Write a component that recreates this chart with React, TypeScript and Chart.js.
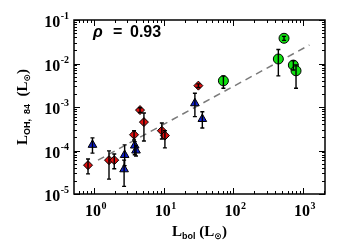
import React, { useEffect, useRef } from 'react';
import { Chart, registerables } from 'chart.js';
Chart.register(...registerables);

// Red diamonds
const redL = [0.82, 1.64, 1.95, 3.75, 4.57, 5.2, 9.4, 10.4, 31.4];
const redOH = [4.6e-5, 6.0e-5, 6.0e-5, 2.3e-4, 8.5e-4, 4.5e-4, 2.85e-4, 2.2e-4, 3.1e-3];
const redLo = [2.9e-5, 2.2e-5, 3.8e-5, 1.75e-4, 7.5e-4, 1.66e-4, 1.84e-4, 1.15e-4, 2.8e-3];
const redHi = [6.4e-5, 9.8e-5, 8.3e-5, 2.85e-4, 9.6e-4, 7.3e-4, 4.3e-4, 2.85e-4, 3.4e-3];

// Blue triangles
const blueL = [0.95, 2.75, 2.7, 3.84, 4.0, 28, 35.8];
const blueOH = [1.35e-4, 7.9e-5, 3.7e-5, 1.3e-4, 1.0e-4, 1.22e-3, 5.3e-4];
const blueLo = [8.7e-5, 4.5e-5, 1.5e-5, 8.0e-5, 7.5e-5, 6.0e-4, 3.3e-4];
const blueHi = [1.95e-4, 1.35e-4, 6.0e-5, 1.6e-4, 1.3e-4, 2.07e-3, 7.8e-4];

// Green circles
const greenL = [71.8, 441, 532, 724, 791];
const greenOH = [4.0e-3, 1.27e-2, 3.8e-2, 9.2e-3, 6.8e-3];
const greenLo = [2.7e-3, 5.2e-3, 3.4e-2, 7.1e-3, 2.7e-3];
const greenHi = [5.2e-3, 2.1e-2, 4.2e-2, 1.16e-2, 9.3e-3];

// Fit line
const fitL = [1.14, 1230];
const fitOH = [6.0e-5, 2.66e-2];

// Tick exponents
const xTickExp = [0, 1, 2, 3];
const yTickExp = [-5, -4, -3, -2, -1];

const corrLabel = '0.93';

const SERIF = '"Liberation Serif", "DejaVu Serif", serif';
const SANS = '"Liberation Sans", Arial, sans-serif';

function pts(xs: number[], ys: number[]) {
  return xs.map((x, i) => ({ x, y: ys[i] }));
}

type Seg = { t: string; font: string; dy: number };

function drawSegs(ctx: CanvasRenderingContext2D, segs: Seg[], cx: number, baseY: number) {
  let total = 0;
  const widths = segs.map((s) => {
    ctx.font = s.font;
    const w = ctx.measureText(s.t).width;
    total += w;
    return w;
  });
  let x = cx - total / 2;
  segs.forEach((s, i) => {
    ctx.font = s.font;
    ctx.fillText(s.t, x, baseY + s.dy);
    x += widths[i];
  });
}

const framePlugin = {
  id: 'frame',
  afterDatasetsDraw(chart: any) {
    const ctx: CanvasRenderingContext2D = chart.ctx;
    const { left, right, top, bottom } = chart.chartArea;
    const xs = chart.scales.x;
    const ys = chart.scales.y;
    ctx.save();
    // error bars
    ctx.strokeStyle = '#000';
    ctx.lineWidth = 1.4;
    chart.data.datasets.forEach((ds: any) => {
      if (!ds.errLo) return;
      ds.data.forEach((p: any, j: number) => {
        const x = xs.getPixelForValue(p.x);
        const y1 = ys.getPixelForValue(ds.errLo[j]);
        const y2 = ys.getPixelForValue(ds.errHi[j]);
        ctx.beginPath();
        ctx.moveTo(x, y1);
        ctx.lineTo(x, y2);
        ctx.moveTo(x - 2, y1);
        ctx.lineTo(x + 2, y1);
        ctx.moveTo(x - 2, y2);
        ctx.lineTo(x + 2, y2);
        ctx.stroke();
      });
    });
    // frame
    ctx.lineWidth = 1.5;
    ctx.strokeRect(left, top, right - left, bottom - top);
    // ticks
    ctx.lineWidth = 1;
    ctx.beginPath();
    for (let e = -2; e <= 4; e++) {
      for (let m = 1; m <= 9; m++) {
        const v = m * Math.pow(10, e);
        if (v < xs.min || v > xs.max) continue;
        const px = Math.round(xs.getPixelForValue(v)) + 0.5;
        const len = m === 1 ? 6 : 3;
        ctx.moveTo(px, bottom);
        ctx.lineTo(px, bottom - len);
        ctx.moveTo(px, top);
        ctx.lineTo(px, top + len);
      }
    }
    for (let e = -7; e <= 0; e++) {
      for (let m = 1; m <= 9; m++) {
        const v = m * Math.pow(10, e);
        if (v < ys.min * 0.999 || v > ys.max * 1.001) continue;
        const py = Math.round(ys.getPixelForValue(v)) + 0.5;
        const len = m === 1 ? 6 : 3;
        ctx.moveTo(left, py);
        ctx.lineTo(left + len, py);
        ctx.moveTo(right, py);
        ctx.lineTo(right - len, py);
      }
    }
    ctx.stroke();

    // tick labels
    ctx.fillStyle = '#000';
    ctx.textBaseline = 'alphabetic';
    const bigF = `bold 16px ${SERIF}`;
    const supF = `bold 10px ${SERIF}`;
    yTickExp.forEach((e) => {
      const py = ys.getPixelForValue(Math.pow(10, e));
      const sup = String(e);
      ctx.font = supF;
      const sw = ctx.measureText(sup).width;
      const rx = left - 5;
      ctx.textAlign = 'left';
      ctx.fillText(sup, rx - sw, py - 1);
      ctx.font = bigF;
      const bw = ctx.measureText('10').width;
      ctx.fillText('10', rx - sw - bw - 0.5, py + 7);
    });
    xTickExp.forEach((e) => {
      const px = xs.getPixelForValue(Math.pow(10, e));
      ctx.font = bigF;
      const bw = ctx.measureText('10').width;
      ctx.textAlign = 'left';
      const x0 = px - bw / 2 - 1;
      ctx.fillText('10', x0, bottom + 22);
      ctx.font = supF;
      ctx.fillText(String(e), x0 + bw + 0.5, bottom + 15);
    });

    // correlation label
    ctx.textAlign = 'left';
    ctx.font = `italic bold 16px ${SANS}`;
    ctx.fillText('ρ', left + 19, top + 17);
    ctx.font = `bold 16px ${SANS}`;
    ctx.fillText('=', left + 39, top + 17);
    ctx.fillText(corrLabel, left + 56, top + 17);

    // x title
    const tF = `bold 15px ${SERIF}`;
    const sF = `bold 9px ${SANS}`;
    const oF = `bold 9px "DejaVu Sans", sans-serif`;
    drawSegs(
      ctx,
      [
        { t: 'L', font: tF, dy: 0 },
        { t: 'bol', font: sF, dy: 3 },
        { t: ' (L', font: tF, dy: 0 },
        { t: '⊙', font: oF, dy: 3 },
        { t: ')', font: tF, dy: 0 },
      ],
      (left + right) / 2,
      bottom + 42
    );
    // y title
    ctx.save();
    ctx.translate(27, (top + bottom) / 2);
    ctx.rotate(-Math.PI / 2);
    drawSegs(
      ctx,
      [
        { t: 'L', font: tF, dy: 0 },
        { t: 'OH,  84', font: sF, dy: 3 },
        { t: '  (L', font: tF, dy: 0 },
        { t: '⊙', font: oF, dy: 3 },
        { t: ')', font: tF, dy: 0 },
      ],
      0,
      0
    );
    ctx.restore();
    ctx.restore();
  },
};

export default function App() {
  const ref = useRef<HTMLCanvasElement | null>(null);
  useEffect(() => {
    document.body.style.margin = '0';
    if (!ref.current) return;
    const chart = new Chart(ref.current, {
      type: 'scatter',
      data: {
        datasets: [
          {
            type: 'line',
            data: pts(fitL, fitOH),
            borderColor: '#7a7a7a',
            borderWidth: 1.5,
            borderDash: [7, 5],
            pointRadius: 0,
            fill: false,
            order: 10,
          } as any,
          {
            data: pts(redL, redOH),
            pointStyle: 'rectRot',
            pointRadius: 4.5,
            backgroundColor: '#e01010',
            borderColor: '#000',
            borderWidth: 1,
            errLo: redLo,
            errHi: redHi,
            order: 1,
          } as any,
          {
            data: pts(blueL, blueOH),
            pointStyle: 'triangle',
            pointRadius: 5,
            backgroundColor: '#1020d0',
            borderColor: '#000',
            borderWidth: 1,
            errLo: blueLo,
            errHi: blueHi,
            order: 1,
          } as any,
          {
            data: pts(greenL, greenOH),
            pointStyle: 'circle',
            pointRadius: 5,
            backgroundColor: '#10e010',
            borderColor: '#000',
            borderWidth: 1,
            errLo: greenLo,
            errHi: greenHi,
            order: 1,
          } as any,
        ],
      },
      options: {
        animation: false,
        responsive: false,
        devicePixelRatio: 1,
        layout: { padding: { left: 74, top: 20, right: 21, bottom: 49 } },
        plugins: { legend: { display: false }, tooltip: { enabled: false } },
        events: [],
        scales: {
          x: { type: 'logarithmic', min: 0.516, max: 2060, display: false },
          y: { type: 'logarithmic', min: 1e-5, max: 1e-1, display: false },
        },
      },
      plugins: [framePlugin],
    });
    return () => chart.destroy();
  }, []);
  return (
    <div style={{ width: 346, height: 243, background: '#fff' }}>
      <canvas ref={ref} width={346} height={243} />
    </div>
  );
}
